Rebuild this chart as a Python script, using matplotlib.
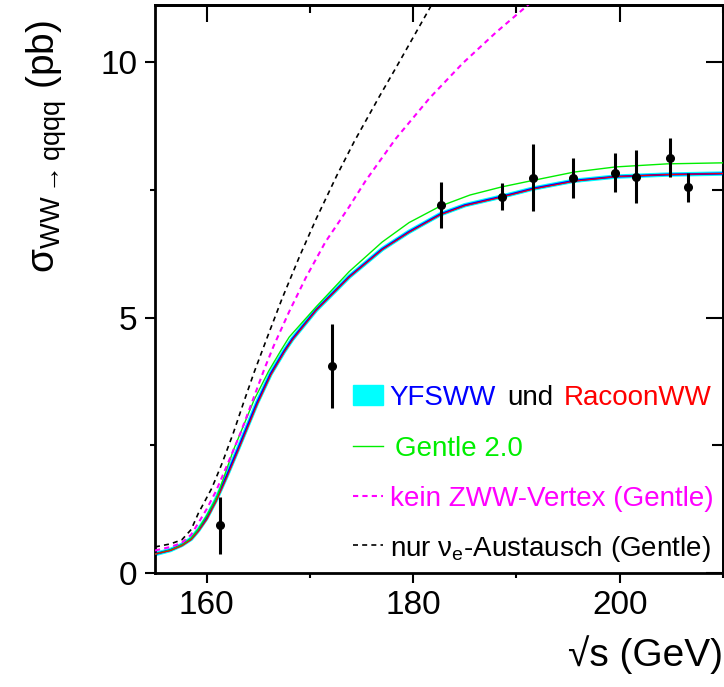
import matplotlib
matplotlib.use("Agg")
import matplotlib.pyplot as plt
from matplotlib.patches import Rectangle
from matplotlib.ticker import MultipleLocator

plt.rcParams['font.family'] = ['Liberation Sans', 'DejaVu Sans']
plt.rcParams['mathtext.fontset'] = 'custom'
plt.rcParams['mathtext.rm'] = 'Liberation Sans'
plt.rcParams['mathtext.it'] = 'Liberation Sans:italic'
plt.rcParams['mathtext.bf'] = 'Liberation Sans:bold'

# measured cross sections (pb)
e_data = [161.3, 172.1, 182.7, 188.6, 191.6, 195.5, 199.5, 201.6, 204.9, 206.6]
sig_data = [0.93, 4.05, 7.20, 7.37, 7.74, 7.74, 7.84, 7.76, 8.13, 7.55]
sig_err = [0.55, 0.82, 0.45, 0.27, 0.65, 0.39, 0.38, 0.52, 0.38, 0.29]

# YFSWW / RacoonWW prediction
e_yfs = [155.0, 156.5, 157.6, 158.5, 159.2, 160.0, 160.9, 162.0, 163.0, 164.0, 164.9,
         166.2, 167.5, 168.3, 170.6, 173.8, 177.0, 179.6, 182.6, 185.0, 188.6,
         191.7, 195.6, 199.6, 204.6, 210.0]
sig_yfs = [0.37, 0.45, 0.55, 0.67, 0.84, 1.08, 1.43, 1.93, 2.41, 2.90, 3.34,
           3.90, 4.34, 4.58, 5.15, 5.80, 6.34, 6.68, 7.02, 7.20, 7.37,
           7.53, 7.68, 7.76, 7.80, 7.82]
sig_racoon = [0.37, 0.44, 0.53, 0.65, 0.81, 1.04, 1.39, 1.89, 2.37, 2.86, 3.30,
              3.87, 4.32, 4.56, 5.14, 5.79, 6.33, 6.67, 7.01, 7.19, 7.36,
              7.52, 7.67, 7.76, 7.80, 7.82]

# Gentle 2.0
e_gentle = [155.0, 156.5, 157.6, 158.5, 159.2, 160.0, 161.0, 162.6, 164.6, 166.0,
            167.2, 168.0, 170.6, 173.8, 177.0, 179.6, 182.6, 185.5, 188.6, 191.7,
            195.6, 199.6, 204.6, 210.0]
sig_gentle = [0.37, 0.45, 0.55, 0.68, 0.86, 1.12, 1.49, 2.41, 3.39, 3.95,
              4.36, 4.62, 5.21, 5.90, 6.48, 6.86, 7.18, 7.40, 7.56, 7.69,
              7.85, 7.95, 8.01, 8.03]

# kein ZWW-Vertex (Gentle)
e_nozww = [155.0, 156.5, 157.6, 158.5, 159.2, 160.0, 160.9, 162.0, 163.3, 165.6,
           166.5, 168.0, 169.6, 171.5, 173.8, 175.4, 178.3, 181.6, 184.8, 188.0,
           191.0, 192.0]
sig_nozww = [0.44, 0.51, 0.59, 0.75, 0.98, 1.25, 1.60, 2.12, 2.75, 4.00,
             4.45, 5.12, 5.78, 6.48, 7.17, 7.68, 8.50, 9.30, 9.98, 10.58,
             11.10, 11.28]

# nur nu_e-Austausch (Gentle)
e_nue = [155.0, 156.5, 157.6, 158.5, 159.2, 160.5, 161.5, 162.6, 163.6, 164.6,
         165.9, 167.3, 169.0, 170.6, 172.6, 174.3, 176.7, 178.3, 181.3, 182.0]
sig_nue = [0.51, 0.57, 0.65, 0.85, 1.17, 1.66, 2.15, 2.75, 3.35, 3.93,
           4.63, 5.37, 6.20, 6.93, 7.78, 8.45, 9.32, 9.88, 10.95, 11.20]

fig = plt.figure(figsize=(7.24, 6.87), dpi=100)
ax = fig.add_axes([155 / 724, 114 / 687, 568 / 724, 568 / 687])

ax.plot(e_yfs, sig_yfs, color='#00ffff', lw=3.2, solid_capstyle='butt', zorder=2)
ax.plot(e_yfs, sig_yfs, color='#0000ff', lw=1.5, zorder=3)
ax.plot(e_yfs, sig_racoon, color='#ff0000', lw=0.8, zorder=4)
ax.plot(e_gentle, sig_gentle, color='#00ee00', lw=1.0, zorder=3)
ax.plot(e_nozww, sig_nozww, color='#ff00ff', lw=1.5, dashes=(2.5, 2.0), zorder=3)
ax.plot(e_nue, sig_nue, color='black', lw=1.2, dashes=(3.0, 2.5), zorder=3)
ax.errorbar(e_data, sig_data, yerr=sig_err, fmt='o', color='black', ms=5.5,
            elinewidth=2.2, capsize=0, zorder=5)

ax.set_xlim(155, 210)
ax.set_ylim(0, 11.12)
ax.xaxis.set_major_locator(MultipleLocator(20))
ax.xaxis.set_minor_locator(MultipleLocator(10))
ax.yaxis.set_major_locator(MultipleLocator(5))
ax.yaxis.set_minor_locator(MultipleLocator(2.5))
ax.tick_params(which='both', direction='out', top=False, right=False,
               width=1.5, labelsize=24, pad=5)
ax.tick_params(which='major', length=7.5)
ax.tick_params(which='minor', length=3.5)
for sp in ax.spines.values():
    sp.set_linewidth(2.0)

# inward ticks on top and right
top = ax.secondary_xaxis('top')
top.xaxis.set_major_locator(MultipleLocator(20))
top.xaxis.set_minor_locator(MultipleLocator(10))
top.tick_params(which='both', direction='in', labeltop=False, width=1.5)
top.tick_params(which='major', length=12)
top.tick_params(which='minor', length=6)
top.spines['top'].set_linewidth(2.0)
right = ax.secondary_yaxis('right')
right.yaxis.set_major_locator(MultipleLocator(5))
right.yaxis.set_minor_locator(MultipleLocator(2.5))
right.tick_params(which='both', direction='in', labelright=False, width=1.5)
right.tick_params(which='major', length=12)
right.tick_params(which='minor', length=8)
right.spines['right'].set_linewidth(2.0)

ax.set_xlabel('√s (GeV)', fontsize=28, ha='right', va='center')
ax.xaxis.set_label_coords(1.0, -0.144)
ax.set_ylabel(r'σ$_{\mathrm{WW}\rightarrow\mathrm{qqqq}}$ (pb)', fontsize=28,
              ha='right', va='center')
ax.yaxis.set_label_coords(-0.19, 0.974)


def ax_x(px):
    return (px - 155) / 568


def ax_y(py):
    return (573 - py) / 568


tr = ax.transAxes
fs = 20
ax.add_patch(Rectangle((ax_x(352.6), ax_y(405)), 30 / 568, 20 / 568,
                       color='#00ffff', transform=tr, clip_on=False))
ax.text(ax_x(389), ax_y(405), 'YFSWW', color='#0000ff', fontsize=fs,
        transform=tr, va='baseline')
ax.text(ax_x(507), ax_y(405), 'und', color='black', fontsize=fs,
        transform=tr, va='baseline')
ax.text(ax_x(564), ax_y(405), 'RacoonWW', color='#ff0000', fontsize=fs,
        transform=tr, va='baseline')

ax.plot([ax_x(352.6), ax_x(382.6)], [ax_y(445.5)] * 2, color='#00ee00', lw=1.0,
        transform=tr, clip_on=False)
ax.text(ax_x(394.7), ax_y(456), 'Gentle 2.0', color='#00ee00', fontsize=fs,
        transform=tr, va='baseline')

ax.plot([ax_x(352.6), ax_x(382.6)], [ax_y(495.7)] * 2, color='#ff00ff', lw=1.5,
        dashes=(2.5, 2.0), transform=tr, clip_on=False)
ax.text(ax_x(390), ax_y(506.5), 'kein ZWW-Vertex (Gentle)', color='#ff00ff',
        fontsize=fs, transform=tr, va='baseline')

ax.plot([ax_x(352.6), ax_x(382.6)], [ax_y(545)] * 2, color='black', lw=1.2,
        dashes=(3.0, 2.5), transform=tr, clip_on=False)
ax.text(ax_x(390), ax_y(556.5), r'nur ν$_\mathrm{e}$-Austausch (Gentle)',
        color='black', fontsize=fs, transform=tr, va='baseline')

fig.savefig('out.png', dpi=100)
